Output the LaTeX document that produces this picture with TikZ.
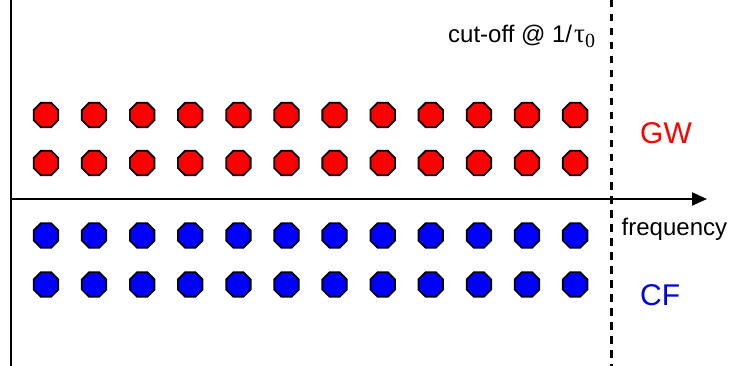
\documentclass[tikz,border=0pt]{standalone}
\usepackage{fontspec}
\setmainfont{Liberation Sans}
\newfontfamily\symserif{Liberation Serif}
\usetikzlibrary{shapes.geometric,arrows.meta}
\definecolor{gwred}{RGB}{255,0,0}
\definecolor{cfblue}{RGB}{0,0,230}
\tikzset{
  oct/.style={regular polygon, regular polygon sides=8, minimum size=26.5pt, inner sep=0pt, draw=black, line width=1.8pt},
  gwoct/.style={oct, fill=gwred},
  cfoct/.style={oct, fill=blue},
  lbl/.style={inner sep=0pt, anchor=base west},
  axis/.style={line width=2.2pt},
  cutline/.style={line width=2.2pt, dash pattern=on 7.5pt off 6.5pt}
}
\begin{document}
\begin{tikzpicture}[x=1pt,y=-1pt]
\useasboundingbox (0,0) rectangle (738,366);
% axes
\coordinate (vtop) at (11,0);
\coordinate (vbot) at (11,366);
\coordinate (hstart) at (11,199);
\coordinate (hend) at (707,199);
\draw[axis] (vtop) -- (vbot);
\draw[axis, -{Triangle[length=15pt,width=13pt]}] (hstart) -- (hend);
% cut-off line
\coordinate (ctop) at (611.5,0);
\coordinate (cbot) at (611.5,366);
\draw[cutline] (ctop) -- (cbot);
% octagons
\foreach \i in {0,...,11}{
  \pgfmathsetmacro{\xx}{46+48.1*\i}
  \node[gwoct] (g1-\i) at (\xx,115) {};
  \node[gwoct] (g2-\i) at (\xx,163) {};
  \node[cfoct] (c1-\i) at (\xx,235.5) {};
  \node[cfoct] (c2-\i) at (\xx,284.5) {};
}
% labels
\node[lbl, font=\fontsize{24}{28}\selectfont] (cut) at (448,43) {cut-off @ 1/\hspace{2pt}{\symserif\fontsize{27}{30}\selectfont τ}\raisebox{-5pt}{\symserif\fontsize{20}{22}\selectfont 0}};
\node[lbl, font=\fontsize{24}{28}\selectfont] (freq) at (621.5,235) {frequency};
\node[lbl, font=\fontsize{30}{34}\selectfont, text=gwred] (gw) at (640,143.3) {GW};
\node[lbl, font=\fontsize{30}{34}\selectfont, text=cfblue] (cf) at (640,305) {CF};
\end{tikzpicture}
\end{document}
